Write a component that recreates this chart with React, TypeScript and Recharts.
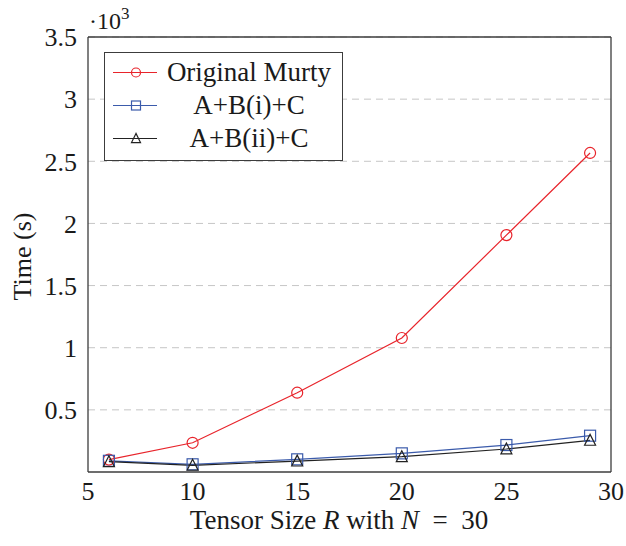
import React from 'react';
import { LineChart, Line, XAxis, YAxis, CartesianGrid, Legend } from 'recharts';

// Tensor size R (N = 30) vs. run time, in units of 10^3 s
const tensorSize = [6, 10, 15, 20, 25, 29];
const originalMurty = [0.1, 0.235, 0.638, 1.078, 1.906, 2.567];
const abiC = [0.09, 0.062, 0.102, 0.15, 0.217, 0.292];
const abiiC = [0.083, 0.054, 0.088, 0.123, 0.185, 0.255];

const xTicks = [5, 10, 15, 20, 25, 30];
const yTicks = [0.5, 1, 1.5, 2, 2.5, 3, 3.5];
const yTickLabels = ['0.5', '1', '1.5', '2', '2.5', '3', '3.5'];

const seriesNames = ['Original Murty', 'A+B(i)+C', 'A+B(ii)+C'];

const data = tensorSize.map((r, i) => ({
    r,
    murty: originalMurty[i],
    bi: abiC[i],
    bii: abiiC[i],
}));

const RED = '#e8242b';
const BLUE = '#3b5bab';
const BLACK = '#222222';
const FRAME = '#3c3c3c';
const TICK = '#b4b4b4';
const FONT = '"Liberation Serif", "Times New Roman", serif';

function marker(kind: string, cx: number, cy: number, s: number, color: string, key?: string) {
    if (kind === 'circle') {
        return <circle key={key} cx={cx} cy={cy} r={s / 2} fill="none" stroke={color} strokeWidth={1.2} />;
    }
    if (kind === 'square') {
        return <rect key={key} x={cx - s / 2} y={cy - s / 2} width={s} height={s} fill="none" stroke={color} strokeWidth={1.2} />;
    }
    const h = s * 0.9;
    const pts = `${cx},${cy - h / 2 - 1} ${cx - s / 2},${cy + h / 2} ${cx + s / 2},${cy + h / 2}`;
    return <polygon key={key} points={pts} fill="none" stroke={color} strokeWidth={1.2} />;
}

const makeDot = (kind: string, color: string) => (props: any) => {
    const { cx, cy, index } = props;
    if (cx == null || cy == null) return <g key={`e-${index}`} />;
    return marker(kind, cx, cy, 11, color, `${kind}-${index}`);
};

const legendRows = [
    { name: seriesNames[0], color: RED, kind: 'circle' },
    { name: seriesNames[1], color: BLUE, kind: 'square' },
    { name: seriesNames[2], color: BLACK, kind: 'triangle' },
];

function LegendBox() {
    return (
        <div
            style={{
                width: 237,
                height: 104,
                border: `1.3px solid ${FRAME}`,
                background: '#fff',
                paddingTop: 3,
                boxSizing: 'content-box',
                fontFamily: FONT,
            }}
        >
            {legendRows.map((row) => (
                <div key={row.name} style={{ display: 'flex', alignItems: 'center', height: 33 }}>
                    <svg width={58} height={33} style={{ flex: 'none' }}>
                        <line x1={8} x2={52} y1={16.5} y2={16.5} stroke={row.color} strokeWidth={1.2} />
                        {marker(row.kind, 31, 16.5, 9, row.color)}
                    </svg>
                    <div style={{ width: 172, textAlign: 'center', fontSize: 27, color: '#1a1a1a', lineHeight: '33px' }}>
                        {row.name}
                    </div>
                </div>
            ))}
        </div>
    );
}

const XLabel = (props: any) => {
    const { viewBox } = props;
    return (
        <text x={339} y={viewBox.y + 57} textAnchor="middle" fontFamily={FONT} fontSize={27} fill="#1a1a1a" style={{ whiteSpace: 'pre' }}>
            {'Tensor Size '}
            <tspan fontStyle="italic">R</tspan>
            {' with '}
            <tspan fontStyle="italic">N</tspan>
            {'  =  30'}
        </text>
    );
};

const YLabel = (props: any) => {
    const { viewBox } = props;
    const cy = viewBox.y + viewBox.height / 2 + 2;
    return (
        <g>
            <text x={31} y={cy} transform={`rotate(-90, 31, ${cy})`} textAnchor="middle" fontFamily={FONT} fontSize={26} fill="#1a1a1a">
                Time (s)
            </text>
            <text x={89} y={29} fontFamily={FONT} fontSize={24} fill="#1a1a1a">
                ·10<tspan dy={-10} fontSize={17}>3</tspan>
            </text>
        </g>
    );
};

export default function App() {
    return (
        <div style={{ position: 'absolute', left: 0, top: 0, background: '#fff' }}>
            <LineChart width={626} height={546} data={data} margin={{ top: 37, right: 15, bottom: 73, left: 87 }}>
                <CartesianGrid vertical={false} horizontalValues={yTicks} stroke="#c6c6c6" strokeDasharray="7 5" />
                <XAxis
                    dataKey="r"
                    type="number"
                    domain={[5, 30]}
                    ticks={xTicks}
                    allowDataOverflow
                    height={1}
                    tickSize={0}
                    tickMargin={10}
                    tickLine={false}
                    axisLine={{ stroke: FRAME, strokeWidth: 1.3 }}
                    tick={{ fill: '#1a1a1a', fontSize: 26, fontFamily: FONT }}
                    label={<XLabel />}
                />
                <XAxis
                    xAxisId="bottomTicks"
                    type="number"
                    domain={[5, 30]}
                    ticks={xTicks}
                    allowDataOverflow
                    orientation="bottom"
                    mirror
                    height={1}
                    tick={false}
                    tickSize={11}
                    tickLine={{ stroke: TICK }}
                    axisLine={false}
                />
                <XAxis
                    xAxisId="top"
                    type="number"
                    domain={[5, 30]}
                    ticks={xTicks}
                    allowDataOverflow
                    orientation="top"
                    mirror
                    height={1}
                    tick={false}
                    tickSize={11}
                    tickLine={{ stroke: TICK }}
                    axisLine={{ stroke: FRAME, strokeWidth: 1.3 }}
                />
                <YAxis
                    type="number"
                    domain={[0, 3.5]}
                    ticks={yTicks}
                    allowDataOverflow
                    width={1}
                    tickSize={0}
                    tickMargin={11}
                    tickLine={false}
                    axisLine={{ stroke: FRAME, strokeWidth: 1.3 }}
                    tick={{ fill: '#1a1a1a', fontSize: 26, fontFamily: FONT }}
                    tickFormatter={(v: number) => yTickLabels[yTicks.indexOf(v)] ?? String(v)}
                    label={<YLabel />}
                />
                <YAxis
                    yAxisId="leftTicks"
                    type="number"
                    domain={[0, 3.5]}
                    ticks={yTicks}
                    allowDataOverflow
                    orientation="left"
                    mirror
                    width={1}
                    tick={false}
                    tickSize={11}
                    tickLine={{ stroke: TICK }}
                    axisLine={false}
                />
                <YAxis
                    yAxisId="right"
                    type="number"
                    domain={[0, 3.5]}
                    ticks={yTicks}
                    allowDataOverflow
                    orientation="right"
                    mirror
                    width={1}
                    tick={false}
                    tickSize={11}
                    tickLine={{ stroke: TICK }}
                    axisLine={{ stroke: FRAME, strokeWidth: 1.3 }}
                />
                <Legend
                    layout="horizontal"
                    verticalAlign="middle"
                    align="center"
                    wrapperStyle={{ left: 104, top: 52, width: 'auto', height: 'auto' }}
                    content={() => <LegendBox />}
                />
                <Line
                    dataKey="murty"
                    name={seriesNames[0]}
                    stroke={RED}
                    strokeWidth={1.2}
                    dot={makeDot('circle', RED)}
                    isAnimationActive={false}
                />
                <Line
                    dataKey="bi"
                    name={seriesNames[1]}
                    stroke={BLUE}
                    strokeWidth={1.2}
                    dot={makeDot('square', BLUE)}
                    isAnimationActive={false}
                />
                <Line
                    dataKey="bii"
                    name={seriesNames[2]}
                    stroke={BLACK}
                    strokeWidth={1.2}
                    dot={makeDot('triangle', BLACK)}
                    isAnimationActive={false}
                />
            </LineChart>
        </div>
    );
}
